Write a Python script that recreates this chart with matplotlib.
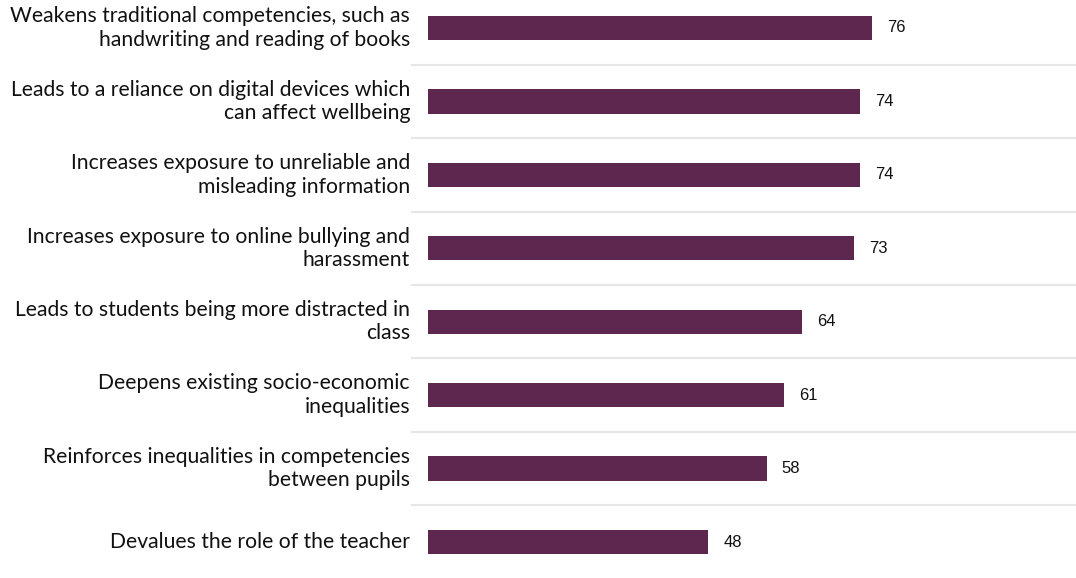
import matplotlib.pyplot as plt
from matplotlib.transforms import blended_transform_factory

# survey statements and share of respondents agreeing (%)
statements = [
    "Weakens traditional competencies, such as\nhandwriting and reading of books",
    "Leads to a reliance on digital devices which\ncan affect wellbeing",
    "Increases exposure to unreliable and\nmisleading information",
    "Increases exposure to online bullying and\nharassment",
    "Leads to students being more distracted in\nclass",
    "Deepens existing socio-economic\ninequalities",
    "Reinforces inequalities in competencies\nbetween pupils",
    "Devalues the role of the teacher",
]
values = [76, 74, 74, 73, 64, 61, 58, 48]

bar_color = "#5E2750"
line_color = "#E6E6E6"

fig = plt.figure(figsize=(10.76, 5.78), dpi=100)
ax = fig.add_axes([428 / 1076, 0, 1 - 428 / 1076, 1])

pos = list(range(len(values)))
ax.barh(pos, values, height=0.33, color=bar_color)
ax.set_xlim(0, 111)
ax.set_ylim(7.49, -0.381)

# thin separators between rows, reaching a bit left of the bars
for i in range(len(values) - 1):
    ax.axhline(i + 0.5, xmin=-16 / 648, xmax=1, color=line_color,
               linewidth=1.5, clip_on=False, zorder=0)

for p, v in zip(pos, values):
    ax.text(v + 2.6, p, str(v), va="center", ha="left",
            fontsize=12, family="Liberation Sans", color="#111111")

trans = blended_transform_factory(fig.transFigure, ax.transData)
for p, s in zip(pos, statements):
    fig.text(410 / 1076, p, s, transform=trans, ha="right", va="center",
             fontsize=15.2, family="Lato", color="#111111",
             linespacing=1.22)

ax.axis("off")
fig.savefig("out.png", dpi=100)
